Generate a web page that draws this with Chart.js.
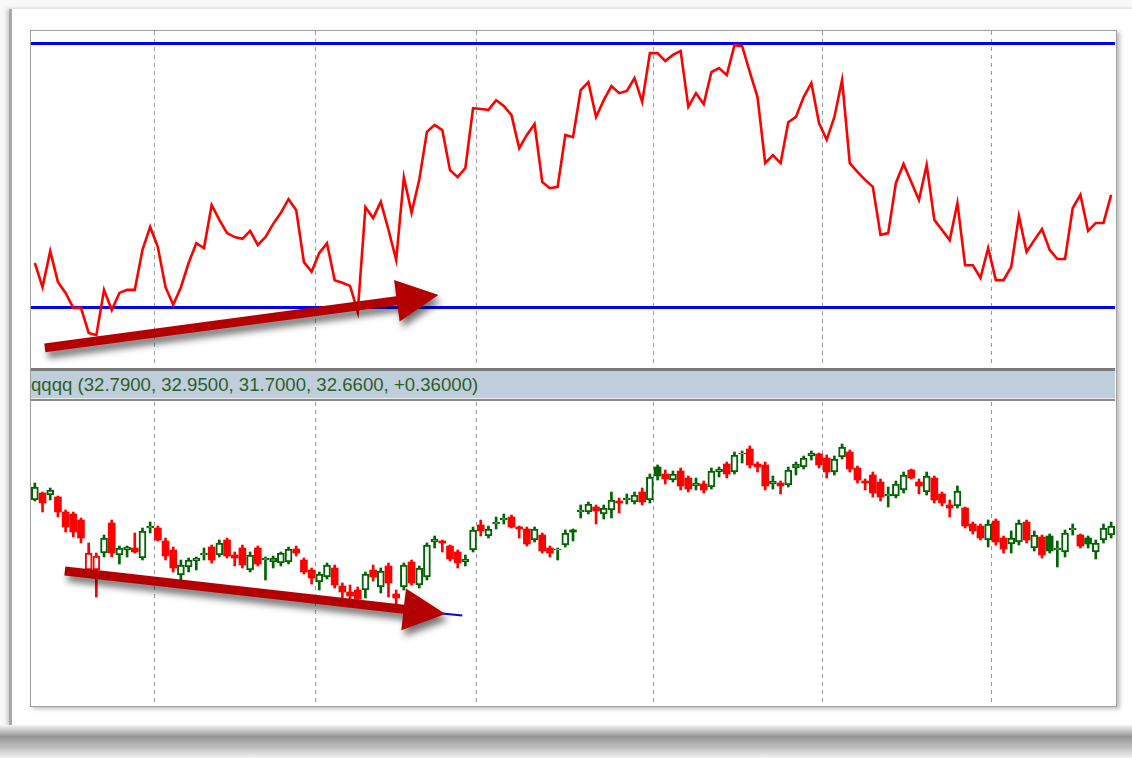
<!DOCTYPE html>
<html>
<head>
<meta charset="utf-8">
<script src="https://cdn.jsdelivr.net/npm/chart.js@4.4.1/dist/chart.umd.min.js"></script>
<style>
  body { margin: 0; width: 1132px; height: 758px; position: relative; overflow: hidden; background: #f8f8f8; font-family: "Liberation Sans", Arial, sans-serif; }
  #page { position: absolute; left: 9px; top: 9px; width: 1125px; height: 716px; background: #fff; border-left: 3px solid #a8a8a8; box-shadow: -2px 0 4px rgba(0,0,0,0.2); }
  #shadow { position: absolute; left: 0; top: 725px; width: 1132px; height: 33px; background: linear-gradient(#f4f4f4, #959595 35%, #c2c2c2 70%, #f2f2f2); }
  #frame { position: absolute; left: 30px; top: 30px; width: 1085px; height: 675px; border: 1px solid #a0a0a0; background: #fff; box-shadow: 3px 2px 4px rgba(0,0,0,0.25); }
  .pane { position: absolute; left: 31px; width: 1084px; }
  #topPane { top: 31px; height: 336px; }
  #bottomPane { top: 402px; height: 303px; }
  #header { position: absolute; left: 31px; top: 368px; width: 1084px; height: 27px; background: #bfcedb; border-top: 3px solid #7a7a7a; border-bottom: 1px solid #e9eef3; box-shadow: 0 2px 0 #8a8a8a; overflow: hidden; }
  #header span { position: absolute; left: 0; top: 3px; font-size: 18.6px; line-height: 22px; color: #2f5d2a; white-space: nowrap; }
</style>
</head>
<body>
<div id="page"></div>
<div id="shadow"></div>
<div id="frame"></div>
<div class="pane" id="topPane"><canvas id="oscChart"></canvas></div>
<div id="header"><span>qqqq (32.7900, 32.9500, 31.7000, 32.6600, +0.36000)</span></div>
<div class="pane" id="bottomPane"><canvas id="priceChart"></canvas></div>
<script>
// Price bars (one per trading day)
const opens = [
  35.00, 35.35, 35.25, 35.15, 34.40, 34.30, 34.00, 31.50, 31.50, 32.35,
  33.85, 32.25, 32.50, 32.60, 32.10, 33.60, 33.60, 32.95, 32.50, 31.25,
  31.65, 31.95, 32.25, 32.65, 32.25, 33.00, 32.25, 32.60, 31.50, 32.60,
  32.00, 31.90, 31.85, 31.90, 32.55, 32.00, 31.50, 30.90, 31.15, 31.60,
  30.70, 30.40, 30.50, 30.50, 31.50, 30.65, 31.70, 30.30, 30.65, 31.90,
  30.75, 31.15, 32.90, 32.95, 32.70, 32.40, 31.90, 32.50, 33.75, 33.20,
  33.80, 34.00, 34.15, 33.65, 33.55, 33.00, 33.25, 32.60, 32.50, 32.75,
  33.50, 34.40, 34.40, 34.65, 34.30, 34.50, 34.95, 35.00, 34.90, 35.40,
  35.00, 36.65, 36.30, 36.00, 36.45, 36.10, 35.70, 35.80, 35.65, 36.40,
  36.80, 36.40, 37.30, 37.55, 36.80, 36.75, 35.80, 35.85, 35.75, 36.60,
  36.65, 37.20, 37.30, 37.10, 36.40, 37.15, 37.40, 36.60, 35.95, 36.25,
  35.90, 35.20, 35.20, 35.50, 36.50, 35.90, 35.40, 36.10, 35.30, 34.75,
  34.70, 34.60, 33.80, 33.70, 33.00, 33.95, 33.10, 32.80, 32.90, 33.90,
  32.60, 33.15, 33.20, 32.50, 32.40, 33.50, 33.25, 33.10, 32.40, 33.00,
  33.25
];
const highs = [
  35.85, 35.40, 35.60, 35.20, 34.50, 34.40, 34.10, 32.85, 32.35, 33.25,
  34.00, 32.70, 32.70, 33.35, 33.60, 33.90, 33.70, 33.10, 32.65, 32.00,
  32.10, 32.15, 32.60, 32.75, 33.00, 33.10, 32.40, 32.75, 32.40, 32.70,
  32.15, 32.20, 32.40, 32.65, 32.70, 32.10, 31.60, 31.40, 31.85, 31.75,
  30.85, 30.75, 30.65, 31.40, 31.75, 31.60, 31.85, 30.50, 31.85, 32.00,
  31.70, 32.85, 33.20, 33.00, 32.75, 32.50, 32.25, 33.65, 34.00, 33.70,
  34.15, 34.30, 34.25, 33.70, 33.65, 33.65, 33.35, 32.70, 32.60, 33.50,
  33.55, 34.75, 34.90, 34.75, 34.75, 35.40, 35.10, 35.30, 35.40, 35.60,
  36.30, 36.75, 36.50, 36.45, 36.60, 36.20, 36.10, 35.95, 36.60, 36.65,
  36.90, 37.40, 37.45, 37.70, 36.90, 36.90, 36.20, 35.95, 36.65, 36.90,
  37.20, 37.45, 37.35, 37.25, 37.20, 37.80, 37.50, 36.70, 36.05, 36.40,
  36.05, 35.65, 35.95, 36.40, 36.55, 36.05, 36.40, 36.20, 35.40, 35.00,
  35.70, 34.65, 33.90, 33.80, 34.00, 34.05, 33.20, 33.45, 34.00, 34.00,
  33.45, 33.25, 33.30, 32.95, 33.50, 33.80, 33.30, 33.20, 33.00, 33.80,
  33.90
];
const lows = [
  34.95, 34.40, 35.00, 34.15, 33.40, 33.15, 32.85, 31.45, 30.15, 32.15,
  32.15, 31.80, 32.15, 32.35, 32.00, 33.35, 32.95, 32.00, 31.40, 30.85,
  31.40, 31.50, 32.00, 31.85, 32.15, 32.10, 31.70, 31.60, 31.40, 31.70,
  31.00, 31.60, 31.70, 31.80, 32.20, 31.30, 30.80, 30.50, 31.05, 30.60,
  30.00, 29.95, 29.95, 30.10, 30.95, 30.35, 30.15, 29.80, 30.50, 30.75,
  30.60, 31.00, 32.60, 32.40, 31.95, 31.60, 31.70, 32.40, 33.20, 33.10,
  33.55, 33.80, 33.60, 33.10, 32.70, 32.90, 32.35, 32.15, 32.00, 32.65,
  32.95, 34.10, 34.30, 33.80, 34.05, 34.10, 34.35, 34.80, 34.80, 34.75,
  34.85, 36.00, 35.80, 35.90, 35.50, 35.40, 35.50, 35.35, 35.55, 36.15,
  36.10, 36.30, 36.85, 36.60, 36.40, 35.50, 35.55, 35.30, 35.65, 36.25,
  36.55, 37.00, 36.60, 36.10, 36.25, 37.05, 36.40, 35.85, 35.50, 35.15,
  34.95, 34.65, 35.10, 35.35, 36.05, 35.30, 35.25, 34.85, 34.70, 34.15,
  34.60, 33.60, 33.30, 33.00, 32.65, 32.75, 32.35, 32.35, 32.75, 32.85,
  32.45, 32.10, 32.35, 31.65, 32.15, 33.25, 32.60, 32.60, 32.05, 32.85,
  33.10
];
const closes = [
  35.65, 34.85, 35.50, 34.40, 33.65, 33.40, 33.10, 32.35, 32.20, 33.10,
  32.35, 32.60, 32.65, 32.40, 33.45, 33.70, 33.00, 32.20, 31.60, 31.75,
  32.00, 32.10, 32.35, 32.00, 32.85, 32.20, 32.10, 31.75, 32.25, 31.80,
  32.10, 32.10, 32.35, 32.55, 32.35, 31.40, 31.10, 31.30, 31.75, 30.75,
  30.40, 30.20, 30.05, 31.30, 31.15, 31.45, 30.85, 30.10, 31.75, 30.85,
  31.60, 32.75, 33.05, 32.85, 32.05, 31.85, 32.05, 33.50, 33.45, 33.55,
  33.90, 34.10, 33.65, 33.55, 32.80, 33.55, 32.45, 32.35, 32.55, 33.35,
  33.40, 34.50, 34.80, 34.45, 34.60, 35.00, 34.85, 35.10, 35.25, 34.90,
  36.15, 36.20, 36.05, 36.30, 35.70, 35.55, 35.85, 35.50, 36.45, 36.55,
  36.30, 37.25, 37.35, 36.75, 36.65, 35.70, 35.95, 35.70, 36.50, 36.80,
  37.10, 37.35, 36.75, 36.40, 37.05, 37.65, 36.55, 36.00, 35.85, 35.35,
  35.15, 35.30, 35.80, 36.25, 36.10, 35.70, 36.20, 35.00, 34.85, 34.60,
  35.45, 33.70, 33.45, 33.10, 33.80, 32.90, 32.55, 33.10, 33.85, 33.00,
  33.25, 32.25, 32.45, 32.60, 33.35, 33.60, 32.70, 32.80, 32.85, 33.60,
  33.70
];
// Oscillator reading for the same days
const oscillator = [
  30.0, 24.5, 32.7, 25.7, 23.2, 19.8, 19.8, 14.1, 13.6, 23.9,
  19.3, 23.2, 23.9, 23.9, 33.0, 38.2, 33.6, 24.5, 20.5, 24.5,
  30.0, 34.5, 33.4, 43.2, 39.8, 36.8, 35.9, 35.5, 37.3, 34.1,
  35.9, 38.9, 41.4, 44.5, 42.0, 30.2, 28.0, 32.3, 34.5, 26.1,
  25.5, 24.8, 18.9, 42.7, 40.2, 43.9, 37.5, 30.7, 49.5, 41.4,
  48.9, 59.8, 61.4, 60.2, 51.1, 49.5, 51.6, 65.2, 65.0, 64.8,
  67.0, 65.7, 63.6, 56.1, 59.1, 61.6, 48.4, 47.0, 47.3, 59.1,
  58.6, 69.3, 71.1, 63.2, 67.0, 70.2, 68.6, 69.1, 72.0, 66.6,
  77.7, 77.7, 75.9, 77.3, 78.2, 65.5, 68.6, 66.1, 73.4, 74.3,
  72.7, 79.5, 79.3, 73.4, 67.7, 52.7, 54.5, 52.7, 62.0, 63.2,
  67.7, 70.9, 61.8, 58.0, 63.2, 71.6, 52.7, 50.7, 48.9, 47.3,
  36.4, 36.8, 48.2, 52.5, 48.4, 44.3, 52.3, 39.8, 37.5, 35.2,
  43.6, 29.5, 29.5, 26.6, 33.4, 26.1, 26.1, 29.1, 40.7, 32.5,
  35.2, 37.7, 33.0, 30.9, 30.9, 42.5, 45.5, 37.3, 39.1, 39.1,
  45.5
];
const levels = [80, 20];
// first bar of each month (dashed separators)
const monthStarts = [16, 37, 58, 81, 103, 125];
// hand drawn arrows, [bar, value]
const oscArrow = { from: [1.3, 10.7], to: [52.5, 22.7] };
const priceArrow = { from: [3.9, 31.45], to: [53.4, 29.3] };
const priceTrend = { from: [53.0, 29.32], to: [55.6, 29.22] };

const bars = closes.map((_, i) => String(i + 1));
const upColor = '#006400';
const downColor = '#ff0000';

function barColor(i) {
  const prev = i > 0 ? closes[i - 1] : opens[i];
  return closes[i] >= prev ? upColor : downColor;
}
function isHollow(i) {
  return closes[i] > opens[i];
}

function drawArrow(ctx, x0, y0, x1, y1) {
  const ang = Math.atan2(y1 - y0, x1 - x0);
  const headLen = 42, headHalf = 21, shaft = 9;
  const bx = x1 - headLen * Math.cos(ang), by = y1 - headLen * Math.sin(ang);
  const nx = -Math.sin(ang), ny = Math.cos(ang);
  ctx.save();
  ctx.shadowColor = 'rgba(0,0,0,0.55)';
  ctx.shadowBlur = 7;
  ctx.shadowOffsetX = 3;
  ctx.shadowOffsetY = 6;
  ctx.fillStyle = '#b40000';
  ctx.beginPath();
  ctx.moveTo(x0 + nx * shaft / 2, y0 + ny * shaft / 2);
  ctx.lineTo(bx + nx * shaft / 2, by + ny * shaft / 2);
  ctx.lineTo(bx + nx * headHalf, by + ny * headHalf);
  ctx.lineTo(x1, y1);
  ctx.lineTo(bx - nx * headHalf, by - ny * headHalf);
  ctx.lineTo(bx - nx * shaft / 2, by - ny * shaft / 2);
  ctx.lineTo(x0 - nx * shaft / 2, y0 - ny * shaft / 2);
  ctx.closePath();
  ctx.fill();
  ctx.restore();
}

const levelLines = {
  id: 'levelLines',
  beforeDatasetsDraw(chart) {
    const { ctx, chartArea, scales } = chart;
    ctx.save();
    ctx.strokeStyle = '#0000ff';
    ctx.lineWidth = 3;
    levels.forEach(v => {
      const y = Math.round(scales.y.getPixelForValue(v)) + 0.5;
      ctx.beginPath();
      ctx.moveTo(chartArea.left, y);
      ctx.lineTo(chartArea.right, y);
      ctx.stroke();
    });
    ctx.restore();
  }
};

const arrows = {
  id: 'arrows',
  afterDatasetsDraw(chart, args, opts) {
    const { ctx, scales } = chart;
    const px = p => [scales.x.getPixelForValue(p[0]), scales.y.getPixelForValue(p[1])];
    if (opts.trend) {
      const a = px(opts.trend.from), b = px(opts.trend.to);
      ctx.save();
      ctx.strokeStyle = '#0000ff';
      ctx.lineWidth = 2;
      ctx.beginPath();
      ctx.moveTo(a[0], a[1]);
      ctx.lineTo(b[0], b[1]);
      ctx.stroke();
      ctx.restore();
    }
    const s = px(opts.arrow.from), e = px(opts.arrow.to);
    drawArrow(ctx, s[0], s[1], e[0], e[1]);
  }
};

function xAxis() {
  return {
    type: 'category',
    offset: true,
    ticks: { display: false, autoSkip: false },
    grid: {
      offset: true,
      drawTicks: false,
      lineWidth: 1,
      color: c => monthStarts.includes(c.index) ? '#9a9a9a' : 'rgba(0,0,0,0)'
    },
    border: { display: false, dash: [4, 4] }
  };
}

Chart.defaults.animation = false;
Chart.defaults.plugins.legend.display = false;
Chart.defaults.plugins.tooltip.enabled = false;

new Chart(document.getElementById('oscChart'), {
  type: 'line',
  data: {
    labels: bars,
    datasets: [{
      data: oscillator,
      borderColor: '#ff0000',
      borderWidth: 2.6,
      pointRadius: 0,
      tension: 0
    }]
  },
  options: {
    responsive: true,
    maintainAspectRatio: false,
    layout: { padding: 0 },
    scales: {
      x: xAxis(),
      y: { display: false, min: 6.36, max: 82.73 }
    },
    plugins: { arrows: { arrow: oscArrow } }
  },
  plugins: [levelLines, arrows]
});

new Chart(document.getElementById('priceChart'), {
  type: 'bar',
  data: {
    labels: bars,
    datasets: [{
      // candle bodies
      data: opens.map((o, i) => [o, closes[i]]),
      grouped: false,
      barThickness: 7,
      borderSkipped: false,
      backgroundColor: c => isHollow(c.dataIndex) ? '#ffffff' : barColor(c.dataIndex),
      borderColor: c => barColor(c.dataIndex),
      borderWidth: c => isHollow(c.dataIndex) ? 2 : 0
    }, {
      // high-low wicks
      data: lows.map((l, i) => [l, highs[i]]),
      grouped: false,
      barThickness: 2,
      borderSkipped: false,
      backgroundColor: c => barColor(c.dataIndex),
      borderWidth: 0
    }]
  },
  options: {
    responsive: true,
    maintainAspectRatio: false,
    layout: { padding: 0 },
    scales: {
      x: xAxis(),
      y: { display: false, min: 24.75, max: 39.9 }
    },
    plugins: { arrows: { arrow: priceArrow, trend: priceTrend } }
  },
  plugins: [arrows]
});
</script>
</body>
</html>
